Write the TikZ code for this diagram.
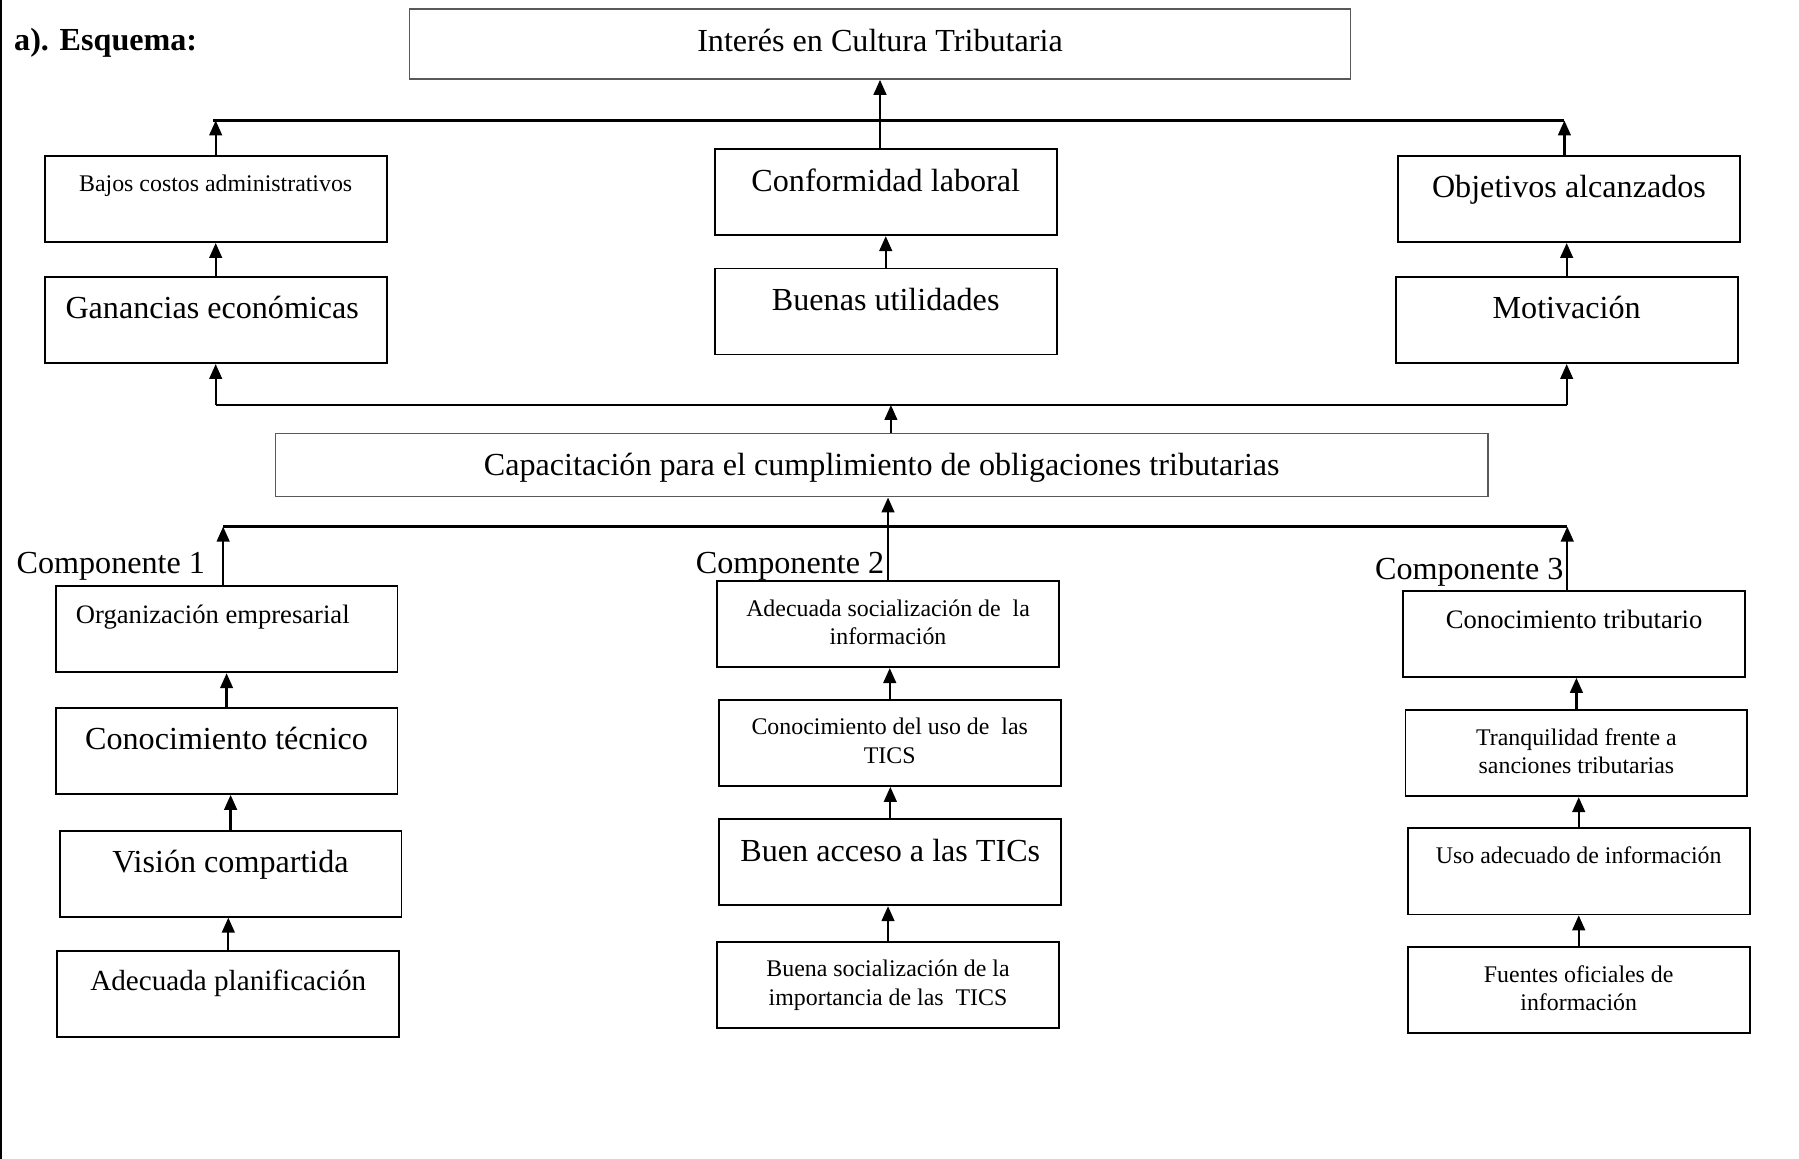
\documentclass[tikz,border=0pt]{standalone}
\usepackage{fontspec}
\setmainfont{Liberation Serif}
\usetikzlibrary{arrows.meta}

\newcommand{\grande}{\fontsize{14}{16.8}\selectfont}
\newcommand{\chico}{\fontsize{10.4}{12.5}\selectfont}
\newcommand{\medio}{\fontsize{11.6}{14}\selectfont}
% caja de texto con el texto arriba
\newcommand{\caja}[3]{\parbox[t][#2][t]{#1}{\centering\vspace*{6.5pt}\strut#3}}

\tikzset{
    caja/.style={draw, line width=0.8pt, inner sep=0pt},
    cajagris/.style={draw=black!65, line width=0.6pt, inner sep=0pt},
    linea/.style={line width=1pt},
    flecha/.style={line width=1pt, -{Triangle[length=6.5pt, width=5.5pt]}},
    comp/.style={font=\grande, anchor=base east, inner sep=0pt}
}

\begin{document}
\begin{tikzpicture}[x=0.5pt, y=-0.5pt]
    \useasboundingbox (0,0) rectangle (1568,1010);
    \draw[line width=0.8pt] (1,0) -- (1,1010);
    \node[font=\bfseries\grande, anchor=base west, inner sep=0pt] (titulo) at (12,44) {a). Esquema:};

    % arriba
    \node[cajagris, font=\grande] (interes) at (767,38.5) {\caja{410pt}{30.5pt}{Interés en Cultura Tributaria}};
    \node[caja, font=\chico] (bajos) at (188,173.5) {\caja{149pt}{37.5pt}{Bajos costos administrativos}};
    \node[caja, font=\grande] (conf) at (772,167.5) {\caja{149pt}{37.5pt}{Conformidad laboral}};
    \node[caja, font=\grande] (objetivos) at (1367.5,173.5) {\caja{149pt}{37.5pt}{Objetivos alcanzados}};
    \node[caja, font=\grande] (ganancias) at (188,279) {\caja{149pt}{37.5pt}{Ganancias económicas\hspace*{3pt}}};
    \node[caja, font=\grande] (util) at (772,271.5) {\caja{149pt}{37.5pt}{Buenas utilidades}};
    \node[caja, font=\grande] (motiv) at (1365.5,279) {\caja{149pt}{37.5pt}{Motivación}};
    \node[cajagris, font=\grande] (capac) at (768.5,405.5) {\caja{528.5pt}{27.5pt}{Capacitación para el cumplimiento de obligaciones tributarias}};

    % componente 1
    \node[caja, font=\medio] (org) at (197.5,548.5) {\caja{149pt}{37.5pt}{Organización empresarial\hspace*{12pt}}};
    \node[caja, font=\grande] (tecnico) at (197.5,654.5) {\caja{149pt}{37.5pt}{Conocimiento técnico}};
    \node[caja, font=\grande] (vision) at (201,761.5) {\caja{149pt}{37.5pt}{Visión compartida}};
    \node[caja, font=\fontsize{12.7}{15.2}\selectfont] (planif) at (199,866.5) {\caja{149pt}{37.5pt}{Adecuada planificación}};

    % componente 2
    \node[caja, font=\chico] (soc) at (774,544) {\caja{149pt}{37.5pt}{Adecuada socialización de \ la\\información}};
    \node[caja, font=\chico] (uso) at (775.5,647.5) {\caja{149pt}{37.5pt}{Conocimiento del uso de \ las\\TICS}};
    \node[caja, font=\grande] (acceso) at (776,751.5) {\caja{149pt}{37.5pt}{Buen acceso a las TICs}};
    \node[caja, font=\chico] (buena) at (774,858.5) {\caja{149pt}{37.5pt}{Buena socialización de la\\importancia de las \ TICS}};

    % componente 3
    \node[caja, font=\medio] (trib) at (1372,552.5) {\caja{149pt}{37.5pt}{Conocimiento tributario}};
    \node[caja, font=\chico] (tranq) at (1374,656.5) {\caja{149pt}{37.5pt}{Tranquilidad frente a\\sanciones tributarias}};
    \node[caja, font=\chico] (usoinf) at (1376,759.5) {\caja{149pt}{37.5pt}{Uso adecuado de información}};
    \node[caja, font=\chico] (fuentes) at (1376,863) {\caja{149pt}{37.5pt}{Fuentes oficiales de\\información}};

    \node[comp] (comp1) at (179,500) {Componente 1};
    \node[comp] (comp2) at (771,500) {Componente 2};
    \node[comp] (comp3) at (1363,505) {Componente 3};

    % conectores
    \coordinate (n1) at (0,105);
    \coordinate (n2) at (0,353);
    \coordinate (n3) at (0,459);
    \draw[linea] ([xshift=-1pt]bajos.north |- n1) -- ([xshift=-2pt]objetivos.north |- n1);
    \draw[flecha] (bajos.north) -- (bajos.north |- n1);
    \draw[flecha] ([xshift=-2pt]objetivos.north) -- ([xshift=-2pt]objetivos.north |- n1);
    \draw[flecha] (interes.south |- conf.north) -- (interes.south);
    \draw[flecha] (ganancias.north) -- (bajos.south);
    \draw[flecha] (util.north) -- (conf.south);
    \draw[flecha] (motiv.north) -- (motiv.north |- objetivos.south);

    \draw[linea] (ganancias.south |- n2) -- (motiv.south |- n2);
    \draw[flecha] (ganancias.south |- n2) -- (ganancias.south);
    \draw[flecha] (motiv.south |- n2) -- (motiv.south);
    \draw[flecha] ([xshift=4pt]capac.north) -- ([xshift=4pt]capac.north |- n2);

    \draw[linea] ([xshift=-1.5pt]org.north |- n3) -- ([xshift=-3pt]trib.north |- n3);
    \draw[flecha] ([xshift=-1.5pt]org.north) -- ([xshift=-1.5pt]org.north |- n3);
    \draw[flecha] ([xshift=-3pt]trib.north) -- ([xshift=-3pt]trib.north |- n3);
    \draw[flecha] (soc.north) -- (soc.north |- capac.south);

    \foreach \a/\b in {tecnico/org, vision/tecnico, planif/vision,
                       uso/soc, acceso/uso, buena/acceso,
                       tranq/trib, usoinf/tranq, fuentes/usoinf}
        \draw[flecha] (\a.north) -- (\a.north |- \b.south);
\end{tikzpicture}
\end{document}
